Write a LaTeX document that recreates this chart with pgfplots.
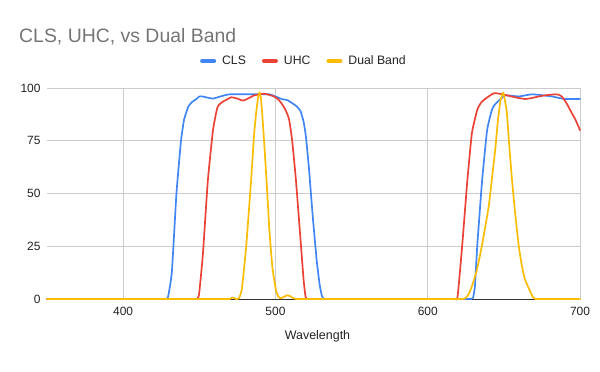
\documentclass[border=0pt]{standalone}
\usepackage{pgfplots}
\pgfplotsset{compat=1.18}
\usepackage{fontspec}
\setmainfont{Liberation Sans}
\definecolor{cls}{HTML}{4285F4}
\definecolor{uhc}{HTML}{EA4335}
\definecolor{dual}{HTML}{FBBC04}
\definecolor{gridc}{HTML}{CCCCCC}
\definecolor{titlec}{HTML}{757575}
\definecolor{txt}{HTML}{222222}
\begin{document}
\begin{tikzpicture}[x=1bp,y=1bp]
\useasboundingbox (0,0) rectangle (600,371);
\node[anchor=base west, font=\fontsize{19.5}{22}\selectfont, text=titlec, inner sep=0] at (19,329) {CLS, UHC, vs Dual Band};
\begin{axis}[
  at={(47bp,72bp)}, anchor=south west,
  width=533bp, height=211bp, scale only axis,
  xmin=350, xmax=700, ymin=0, ymax=100,
  clip=false,
  axis line style={draw=none},
  major tick length=0pt,
  xtick={400,500,600,700},
  ytick={25,50,75,100},
  extra y ticks={0},
  extra y tick style={grid style={draw=black!80, line width=1bp}},
  grid=major,
  grid style={draw=gridc, line width=0.8bp},
  /pgf/number format/assume math mode=true,
  ticklabel style={font=\fontsize{12}{14}\selectfont, text=txt},
  xticklabel style={yshift=-5bp},
  yticklabel style={xshift=-3bp},
  xlabel={Wavelength},
  xlabel style={font=\fontsize{12.5}{14}\selectfont, text=txt, yshift=-8bp, xshift=4bp},
  legend columns=3,
  legend style={at={(0.482,1.128)}, anchor=center, draw=none, fill=none,
    font=\fontsize{12.3}{14}\selectfont, text=txt,
    /tikz/every odd column/.append style={column sep=4bp},
    /tikz/every even column/.append style={column sep=14bp}},
  legend image code/.code={\draw[line width=4bp] (0bp,0bp) -- (12bp,0bp);},
  every axis plot/.append style={line width=1.7bp, line join=round, line cap=round, smooth, tension=0.3},
]
\addplot[cls] coordinates {
(350,0) (360,0) (380,0) (400,0) (420,0) (424,0) (426,0) (428,0) (429.5,1) (432,13) (435,50) (438,75) (440,85) (441.5,88.5) (443,91.5) (445.5,93.5) (448,94.7) (450,96) (452,96) (455,95.5) (459,95) (463,95.8) (467,96.6) (470,97) (480,97) (490,97) (496,97) (500,96) (504,94.8) (508,94.2) (511,92.8) (514,91.3) (516.5,89) (518.5,84) (520,77) (522,62) (524.4,40) (527,19) (529,7) (530.5,1.5) (532,0) (534,0) (536,0) (540,0) (560,0) (580,0) (600,0) (620,0) (624,0) (626,0) (628,0) (629.7,0.5) (631,6) (632.5,25) (635.7,56) (639,80) (642.3,90) (644.5,92.5) (646.7,94) (649,95.5) (651,96.5) (655,96.3) (660,96) (664,96.5) (668.5,97) (675,96.6) (681.6,96) (686,95.3) (690,94.8) (695,94.8) (700,94.8)
};
\addlegendentry{CLS}
\addplot[uhc] coordinates {
(350,0) (360,0) (380,0) (400,0) (420,0) (440,0) (444,0) (446,0) (448,0) (449.8,2) (452.4,21.6) (455.6,56) (459,80) (462,91) (465.5,93.5) (468,94.5) (471,95.6) (475,95) (478.6,94) (482,95) (486,96.5) (489.5,97) (493,97.3) (496,96.7) (499,96) (502,94.5) (504.7,92) (507,89) (509,85) (511,75) (513.5,56) (516.8,25) (518.5,9) (519.8,1) (521,0) (523,0) (525,0) (530,0) (550,0) (570,0) (590,0) (610,0) (614,0) (616,0) (618,0) (619.6,1) (622.6,25) (626,56) (629,78.5) (632.5,89.6) (635,93) (636.8,94.3) (640,96) (643.4,97.5) (647,97.3) (651,96.7) (655,96) (660,95.2) (664,94.8) (668,95.2) (672.9,96) (678,96.6) (683.8,97) (686,96.8) (688,96) (691,93) (694.7,88) (697,85) (700,80)
};
\addlegendentry{UHC}
\addplot[dual] coordinates {
(350,0) (360,0) (380,0) (400,0) (420,0) (440,0) (460,0) (466,0) (468,0) (470,0) (472,0.8) (474,0) (476,0.3) (478,5) (480.8,25) (484,56) (486,78) (487.3,88) (488.5,95) (489.5,98) (490.5,95) (491.5,86) (492.8,72) (494.5,52) (496,33) (498,15) (500.4,4) (502,1) (503.7,0.3) (506,1.2) (508,1.8) (510,1.2) (512,0.3) (513.5,0) (516,0) (518,0) (520,0) (540,0) (560,0) (580,0) (600,0) (615,0) (619,0) (621,0) (623,0) (625,0.5) (627,2.5) (629,6) (632,13) (634.6,21.6) (637,31) (640,43.7) (642,56) (644.5,72) (646,84) (647.8,94) (649.5,97.8) (650.5,95) (652,88) (653.5,73) (655.4,56) (657.5,40) (659.8,25) (662,15) (664,9) (667,4) (669,1) (670.7,0) (672.5,0) (674.5,0) (680,0) (690,0) (700,0)
};
\addlegendentry{Dual Band}
\end{axis}
\end{tikzpicture}
\end{document}
